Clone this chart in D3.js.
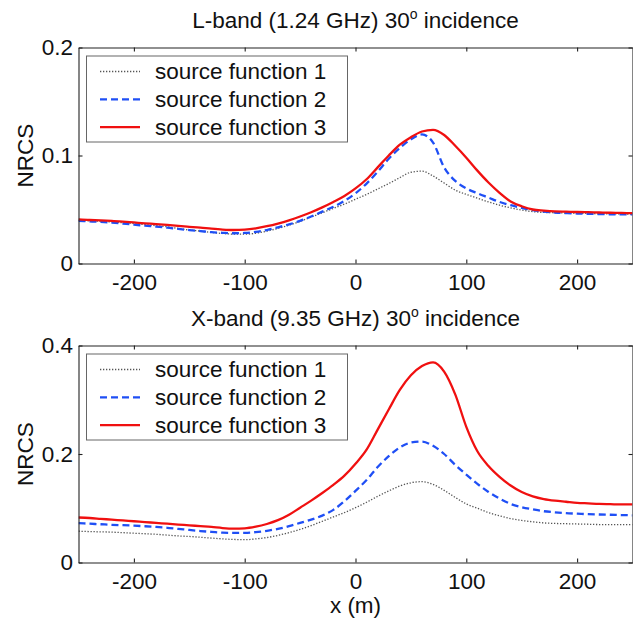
<!DOCTYPE html>
<html>
<head>
<meta charset="utf-8">
<script src="https://cdn.jsdelivr.net/npm/d3@7"></script>
<style>
  body { margin: 0; background: #fff; }
  svg { display: block; }
  text { font-family: "Liberation Sans", Arial, sans-serif; fill: #111; }
</style>
</head>
<body>
<div id="chart"></div>
<script>
// x positions (m), every 10 m
var xs = d3.range(-250, 251, 10);

// L-band (1.24 GHz)
var lband1 = [0.040, 0.0395, 0.039, 0.0385, 0.0378, 0.037, 0.036, 0.035, 0.034, 0.0325,
  0.031, 0.030, 0.0288, 0.0278, 0.0272, 0.0272, 0.028, 0.030, 0.0325, 0.0355,
  0.039, 0.043, 0.047, 0.051, 0.055, 0.0595, 0.064, 0.069, 0.074, 0.0795,
  0.0845, 0.0855, 0.081, 0.0745, 0.068, 0.064, 0.0605, 0.057, 0.054, 0.0515,
  0.0495, 0.048, 0.0473, 0.047, 0.0467, 0.0465, 0.0463, 0.046, 0.046, 0.0458, 0.0457];
var lband2 = [0.0395, 0.039, 0.0385, 0.0378, 0.037, 0.036, 0.035, 0.0342, 0.0332, 0.032,
  0.031, 0.030, 0.029, 0.0284, 0.028, 0.0283, 0.0293, 0.031, 0.0335, 0.0362,
  0.0395, 0.0435, 0.048, 0.0525, 0.058, 0.065, 0.074, 0.085, 0.097, 0.107,
  0.115, 0.1195, 0.112, 0.089, 0.0765, 0.0695, 0.065, 0.061, 0.057, 0.054,
  0.0515, 0.0495, 0.048, 0.0472, 0.0467, 0.0463, 0.046, 0.0458, 0.0456, 0.0455, 0.0455];
var lband3 = [0.0408, 0.0403, 0.040, 0.0395, 0.0388, 0.038, 0.0372, 0.0365, 0.0357, 0.0348,
  0.034, 0.0332, 0.0322, 0.0314, 0.031, 0.0313, 0.0325, 0.0345, 0.037, 0.040,
  0.0435, 0.0475, 0.052, 0.057, 0.0625, 0.0695, 0.078, 0.089, 0.100, 0.110,
  0.117, 0.1222, 0.1238, 0.119, 0.109, 0.098, 0.086, 0.075, 0.0655, 0.0575,
  0.053, 0.050, 0.049, 0.0483, 0.048, 0.0477, 0.0475, 0.0472, 0.047, 0.0468, 0.0466];

// X-band (9.35 GHz)
var xband1 = [0.0577, 0.057, 0.0565, 0.056, 0.055, 0.054, 0.053, 0.052, 0.0505, 0.049,
  0.048, 0.0465, 0.045, 0.0435, 0.0425, 0.042, 0.0435, 0.046, 0.050, 0.055,
  0.061, 0.068, 0.076, 0.084, 0.092, 0.101, 0.111, 0.122, 0.132, 0.141,
  0.147, 0.149, 0.144, 0.133, 0.120, 0.108, 0.100, 0.092, 0.086, 0.081,
  0.0775, 0.075, 0.073, 0.072, 0.0715, 0.071, 0.0705, 0.070, 0.070, 0.070, 0.070];
var xband2 = [0.0725, 0.0715, 0.0705, 0.0695, 0.0688, 0.068, 0.0668, 0.0655, 0.064, 0.062,
  0.060, 0.058, 0.0565, 0.055, 0.0545, 0.0547, 0.056, 0.0585, 0.062, 0.067,
  0.073, 0.079, 0.0865, 0.097, 0.113, 0.132, 0.152, 0.176, 0.196, 0.212,
  0.221, 0.223, 0.215, 0.200, 0.180, 0.162, 0.145, 0.130, 0.118, 0.108,
  0.102, 0.098, 0.0945, 0.0925, 0.091, 0.090, 0.089, 0.0885, 0.088, 0.0875, 0.087];
var xband3 = [0.083, 0.082, 0.0805, 0.079, 0.0775, 0.076, 0.0745, 0.073, 0.0715, 0.070,
  0.0685, 0.067, 0.0655, 0.0635, 0.0625, 0.063, 0.066, 0.071, 0.078, 0.088,
  0.101, 0.114, 0.128, 0.143, 0.160, 0.182, 0.208, 0.245, 0.282, 0.318,
  0.345, 0.362, 0.369, 0.352, 0.310, 0.250, 0.205, 0.178, 0.158, 0.142,
  0.130, 0.122, 0.117, 0.114, 0.112, 0.110, 0.109, 0.108, 0.1075, 0.107, 0.107];

var xTicks = [-200, -100, 0, 100, 200];
var legendNames = ["source function 1", "source function 2", "source function 3"];

var panels = [
  { title: "L-band (1.24 GHz) 30", yMax: 0.2, yTicks: [0, 0.1, 0.2], series: [lband1, lband2, lband3], top: 47.5, bottom: 263.5, xlabel: false },
  { title: "X-band (9.35 GHz) 30", yMax: 0.4, yTicks: [0, 0.2, 0.4], series: [xband1, xband2, xband3], top: 345.5, bottom: 562.5, xlabel: true }
];

var styles = [
  { color: "#555", width: 1.3, dash: "1.3,1.7" },
  { color: "#1f4ff5", width: 2.3, dash: "7,4" },
  { color: "#f01010", width: 2.3, dash: null }
];

var W = 633, H = 620;
var left = 78.5, right = 632.5;
var fs = 22.5;

var svg = d3.select("#chart").append("svg")
  .attr("width", W).attr("height", H);

var x = d3.scaleLinear().domain([-250, 250]).range([left, right]);

panels.forEach(function(p, pi) {
  var y = d3.scaleLinear().domain([0, p.yMax]).range([p.bottom, p.top]);
  var g = svg.append("g");

  var clipId = "clip" + pi;
  svg.append("clipPath").attr("id", clipId).append("rect")
    .attr("x", left).attr("y", p.top).attr("width", right - left).attr("height", p.bottom - p.top);

  // series lines
  var line = d3.line()
    .x(function(d, i) { return x(xs[i]); })
    .y(function(d) { return y(d); })
    .curve(d3.curveMonotoneX);

  p.series.forEach(function(s, si) {
    g.append("path")
      .datum(s)
      .attr("clip-path", "url(#" + clipId + ")")
      .attr("d", line)
      .attr("fill", "none")
      .attr("stroke", styles[si].color)
      .attr("stroke-width", styles[si].width)
      .attr("stroke-dasharray", styles[si].dash);
  });

  // axes (ticks pointing inward, box on)
  var fmt = function(d) { return d === 0 ? "0" : String(d); };
  var ax = [
    { axis: d3.axisBottom(x).tickValues(xTicks).tickFormat(fmt).tickPadding(10.5), tr: [0, p.bottom] },
    { axis: d3.axisTop(x).tickValues(xTicks).tickFormat(""), tr: [0, p.top] },
    { axis: d3.axisLeft(y).tickValues(p.yTicks).tickFormat(fmt).tickPadding(5.5), tr: [left, 0] },
    { axis: d3.axisRight(y).tickValues(p.yTicks).tickFormat(""), tr: [right, 0] }
  ];
  ax.forEach(function(a) {
    var ag = g.append("g")
      .attr("transform", "translate(" + a.tr[0] + "," + a.tr[1] + ")")
      .call(a.axis.tickSizeInner(-4).tickSizeOuter(0));
    ag.attr("font-family", null).attr("font-size", null);
    ag.selectAll("path, line").attr("stroke", "#222").attr("stroke-width", 1.1);
    ag.selectAll("text").style("font-size", fs + "px").attr("fill", "#111");
  });

  // title with superscript degree
  var t = g.append("text")
    .attr("x", (left + right) / 2)
    .attr("y", p.top - 20)
    .attr("text-anchor", "middle")
    .style("font-size", fs + "px");
  t.append("tspan").text(p.title);
  t.append("tspan").attr("dy", -9).style("font-size", "14px").text("o");
  t.append("tspan").attr("dy", 9).text(" incidence");

  // y label
  g.append("text")
    .attr("transform", "translate(33," + ((p.top + p.bottom) / 2) + ") rotate(-90)")
    .attr("text-anchor", "middle")
    .style("font-size", fs + "px")
    .text("NRCS");

  if (p.xlabel) {
    g.append("text")
      .attr("x", (left + right) / 2)
      .attr("y", 613)
      .attr("text-anchor", "middle")
      .style("font-size", fs + "px")
      .text("x (m)");
  }

  // legend
  var lg = g.append("g");
  lg.append("rect")
    .attr("x", 86.5).attr("y", p.top + 8.5)
    .attr("width", 261).attr("height", 86)
    .attr("fill", "#fff").attr("stroke", "#666").attr("stroke-width", 1);
  legendNames.forEach(function(name, i) {
    var cy = p.top + 24 + i * 27.8;
    lg.append("line")
      .attr("x1", 100).attr("x2", 140).attr("y1", cy).attr("y2", cy)
      .attr("stroke", styles[i].color)
      .attr("stroke-width", styles[i].width)
      .attr("stroke-dasharray", styles[i].dash);
    lg.append("text")
      .attr("x", 155).attr("y", cy).attr("dy", "0.35em")
      .style("font-size", fs + "px")
      .text(name);
  });
});
</script>
</body>
</html>
